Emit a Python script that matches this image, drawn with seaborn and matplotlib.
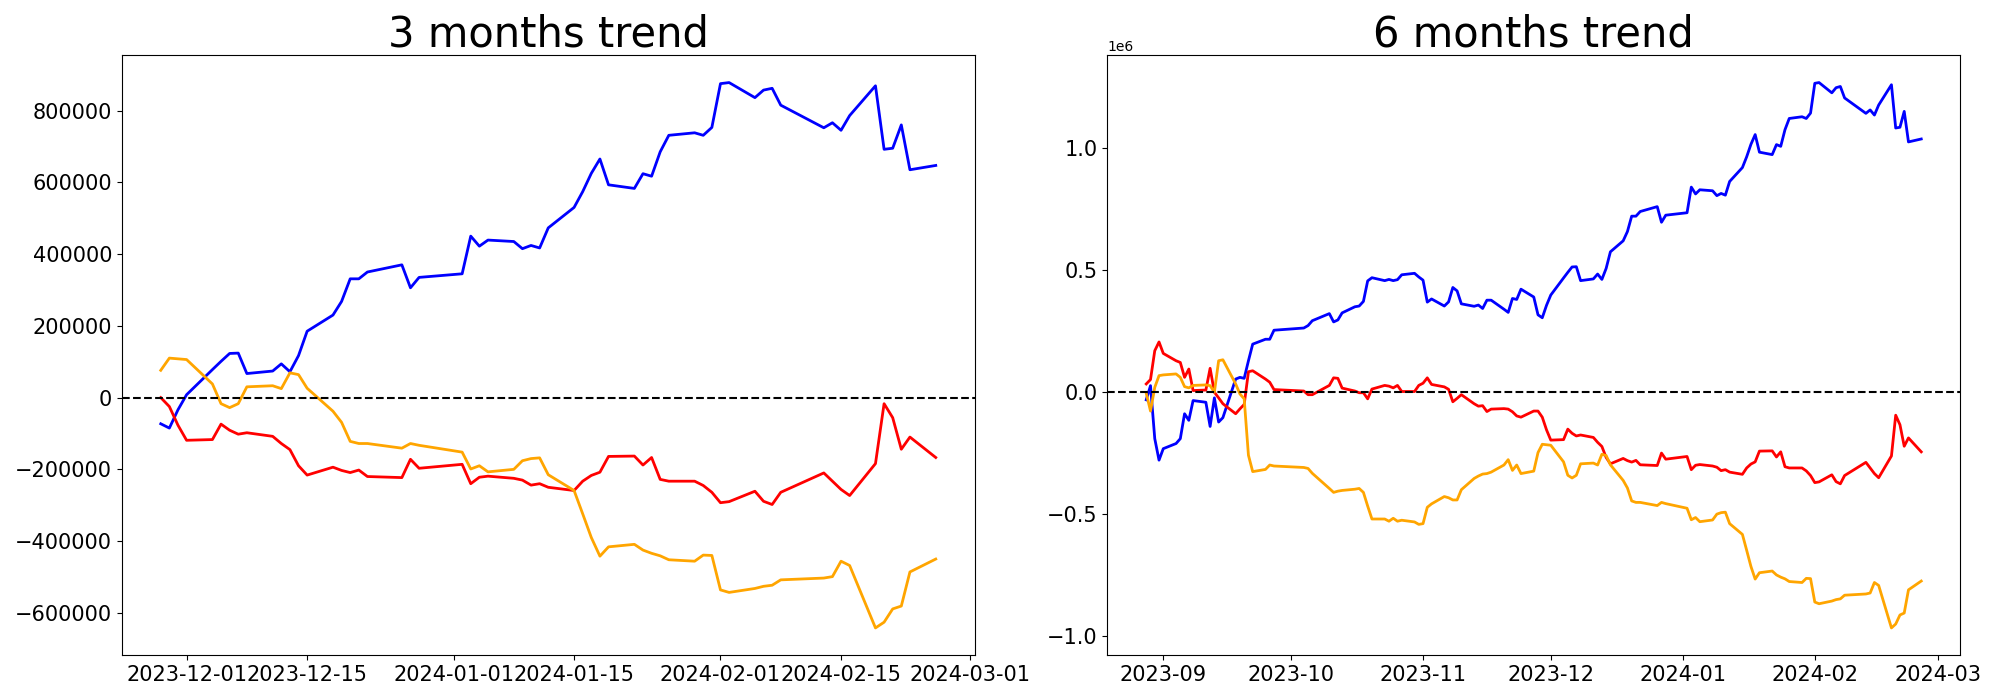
import numpy as np
import pandas as pd
import matplotlib
matplotlib.use("Agg")
import matplotlib.pyplot as plt
import seaborn as sns

# Korean exchange holidays inside the plotted window (trading-day calendar)
KRX_HOLIDAYS = ["2023-09-28", "2023-09-29", "2023-10-02", "2023-10-03", "2023-10-09",
                "2023-12-25", "2023-12-29", "2024-01-01", "2024-02-09", "2024-02-12"]

UNIT = 1000  # values below are in thousands

# ---------------- 3 months (2023-11-28 .. 2024-02-26) ----------------
blue_3m = [-73, -85, -34, 8, 78, 101, 123, 124, 67, 74, 94, 72, 117, 185, 230, 268, 331, 331, 350,
           370, 306, 335, 345, 450, 422, 439, 435, 415, 424, 417, 473, 530, 574, 625, 665, 593,
           583, 624, 617, 685, 731, 738, 731, 753, 875, 878, 836, 857, 862, 815, 752, 766, 745,
           786, 869, 692, 695, 760, 635, 647]
red_3m = [0, -25, -77, -119, -117, -74, -91, -102, -98, -108, -128, -145, -190, -216, -194, -203,
          -209, -202, -220, -223, -172, -197, -186, -240, -222, -219, -225, -230, -244, -240, -250,
          -259, -233, -217, -208, -164, -163, -188, -167, -228, -233, -233, -245, -264, -293, -290,
          -261, -289, -298, -264, -210, -233, -256, -273, -184, -17, -56, -144, -110, -167]
orange_3m = [76, 110, 108, 106, 38, -17, -28, -17, 30, 33, 25, 69, 64, 26, -38, -69, -122, -128,
             -128, -141, -128, -133, -152, -199, -190, -207, -200, -176, -170, -168, -215, -259,
             -324, -390, -442, -416, -409, -425, -434, -441, -452, -456, -439, -440, -536, -543,
             -532, -526, -523, -508, -503, -499, -456, -468, -642, -626, -589, -581, -486, -450]

# ---------------- 6 months (2023-08-28 .. 2024-02-26) ----------------
blue_6m = [-31, 27, -190, -278,
           -231, -210, -190, -88, -115, -34, -41, -140, -23, -122, -104, 54, 61, 57, 129, 197, 217, 217, 254,
           263, 273, 293, 322, 288, 296, 325, 350, 353, 372, 456, 469, 457, 462, 457, 461, 481, 487, 472,
           459, 369, 382, 353, 370, 429, 415, 362, 352, 357, 343, 377, 377, 340, 327, 384, 380, 422, 390,
           317, 305, 356, 398, 468, 491, 513, 514, 457, 464, 484, 462, 507, 575, 620, 658, 721, 721, 740,
           760, 696, 725, 735, 840, 812, 829, 825, 805, 814, 807, 863, 920, 964, 1015, 1055, 983, 973,
           1014, 1007, 1075, 1121, 1128, 1121, 1143, 1265, 1268, 1226, 1247, 1252, 1205, 1142, 1156,
           1135, 1176, 1259, 1082, 1085, 1150, 1025, 1037]
red_6m = [34, 52, 170, 206,
          159, 129, 122, 61, 95, 7, 9, 98, 0, -23, -47, -88, -68, -50, 84, 88, 54, 41, 11,
          5, -10, -10, 28, 59, 57, 17, 5, -2, -2, -27, 13, 28, 25, 18, 28, 3, 3, 28,
          37, 59, 32, 22, 12, -39, -25, -10, -47, -57, -55, -79, -69, -67, -69, -80, -97, -102, -77,
          -77, -102, -154, -196, -194, -151, -168, -179, -175, -185, -205, -222, -267, -293, -271,
          -280, -286, -279, -297, -300, -249, -274, -263, -317, -299, -296, -302, -307, -321, -317,
          -327, -336, -310, -294, -285, -241, -240, -265, -244, -305, -310, -310, -322, -341, -370,
          -367, -338, -366, -375, -341, -287, -310, -333, -350, -261, -94, -133, -221, -187, -244]
orange_6m = [-4, -77, 20, 68,
             71, 75, 61, 23, 18, 28, 30, 27, 0, 129, 133, 34, -7, -27, -258, -325, -316, -298, -302,
             -308, -312, -332, -394, -410, -405, -402, -397, -394, -410, -466, -519, -519, -528, -516,
             -528, -524, -531, -541,
             -538, -471, -457, -427, -432, -441, -441, -399, -353, -343, -335, -333, -327, -298, -276,
             -320, -298, -333, -323,
             -247, -213, -215, -217, -285, -340, -351, -340, -293, -290, -298, -254, -259, -297, -361,
             -392, -445, -451, -451, -464, -451, -456, -475, -522, -513, -530, -523, -499, -493, -491,
             -538, -582, -647, -713, -765, -739, -732, -748, -757, -764, -775, -779, -762, -763, -859,
             -866, -855, -849, -846, -831, -826, -822, -779, -791, -965, -949, -912, -904, -809, -773]

SERIES_COLORS = ["blue", "red", "orange"]
TITLES = ["3 months trend", "6 months trend"]

dates_3m = pd.bdate_range("2023-11-28", "2024-02-26", freq="C", holidays=KRX_HOLIDAYS)
dates_6m = pd.bdate_range("2023-08-28", "2024-02-26", freq="C", holidays=KRX_HOLIDAYS)


def long_frame(dates, series):
    parts = []
    for name, vals in zip(SERIES_COLORS, series):
        parts.append(pd.DataFrame({"date": dates, "value": np.array(vals, dtype=float) * UNIT,
                                   "series": name}))
    return pd.concat(parts, ignore_index=True)


panels = [long_frame(dates_3m, [blue_3m, red_3m, orange_3m]),
          long_frame(dates_6m, [blue_6m, red_6m, orange_6m])]

fig, axes = plt.subplots(1, 2, figsize=(20, 7), dpi=100)
for ax, df, title in zip(axes, panels, TITLES):
    sns.lineplot(data=df, x="date", y="value", hue="series", hue_order=SERIES_COLORS,
                 palette={c: c for c in SERIES_COLORS}, legend=False, linewidth=2,
                 estimator=None, ax=ax)
    ax.axhline(0, color="black", linestyle="--", linewidth=1.5)
    ax.set_title(title, fontsize=30)
    ax.set_xlabel("")
    ax.set_ylabel("")
    ax.tick_params(axis="both", labelsize=15)

fig.subplots_adjust(left=0.061, right=0.98, bottom=0.064, top=0.921, wspace=0.156)
fig.savefig("out.png", dpi=100)
